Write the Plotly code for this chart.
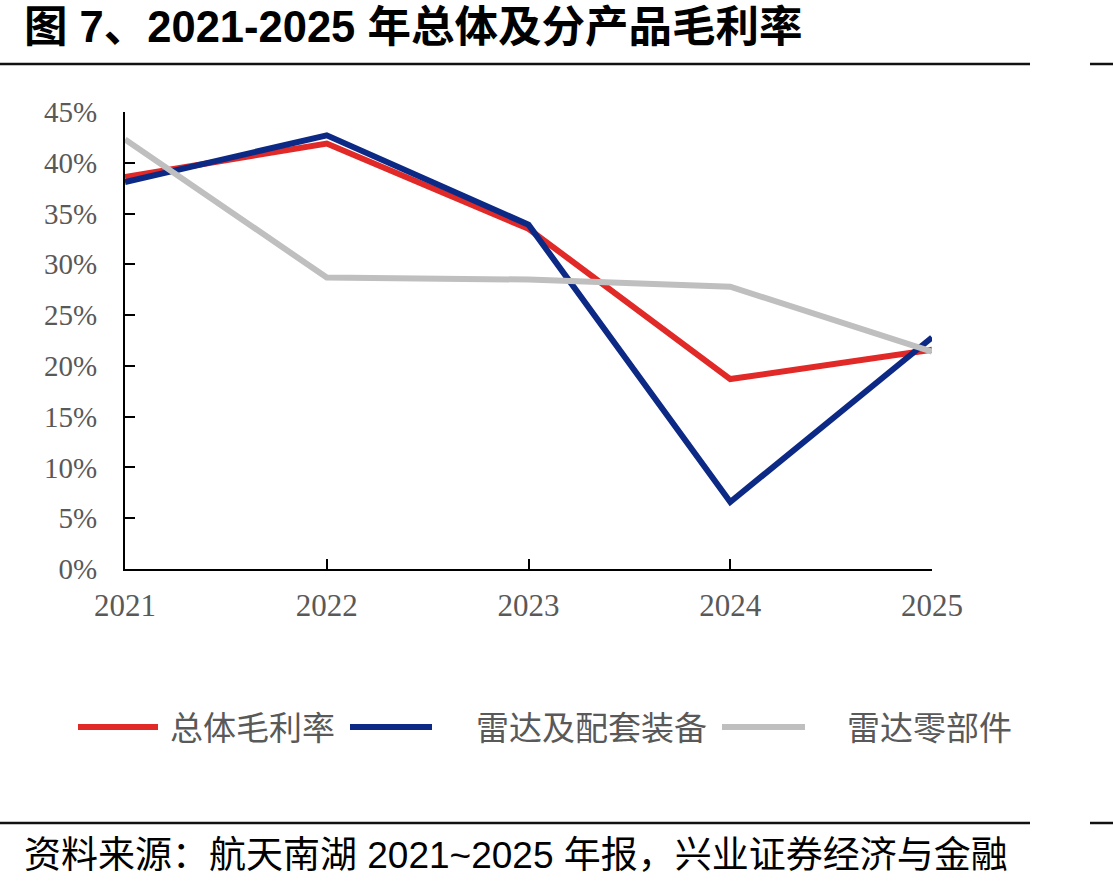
import plotly.graph_objects as go

years = [2021, 2022, 2023, 2024, 2025]
overall_margin = [38.6, 41.9, 33.5, 18.7, 21.6]
radar_equipment = [38.1, 42.7, 33.9, 6.6, 22.8]
radar_parts = [42.3, 28.7, 28.5, 27.8, 21.4]
series_names = ["总体毛利率", "雷达及配套装备", "雷达零部件"]
series_colors = ["#E12927", "#0C2A85", "#BFBFBF"]
y_ticks = [0, 5, 10, 15, 20, 25, 30, 35, 40, 45]
y_tick_text = [f"{v}%" for v in y_ticks]
x_tick_text = [str(y) for y in years]

title_text = "图 7、2021-2025 年总体及分产品毛利率"
source_text = "资料来源：航天南湖 2021~2025 年报，兴业证券经济与金融"

W, H = 1113, 887
L, R, T, B = 125, 181, 112, 318
pw, ph = W - L - R, H - T - B


def px(x):
    return (x - L) / pw


def py(y):
    return (H - B - y) / ph


fig = go.Figure()
series = [overall_margin, radar_equipment, radar_parts]
for name, vals, col in zip(series_names, series, series_colors):
    fig.add_trace(go.Scatter(x=years, y=vals, name=name, mode="lines",
                             line=dict(color=col, width=6), showlegend=False,
                             cliponaxis=False))

serif = "Liberation Serif, Times New Roman, serif"
cjk = "Noto Sans CJK SC, sans-serif"

fig.update_layout(
    width=W, height=H,
    margin=dict(l=L, r=R, t=T, b=B),
    paper_bgcolor="white", plot_bgcolor="white",
    xaxis=dict(range=[2021, 2025], tickvals=years, ticktext=x_tick_text,
               showgrid=False, zeroline=False, showline=True, linecolor="black",
               linewidth=2, ticks="inside", ticklen=10, tickwidth=2, tickcolor="black",
               tickfont=dict(family=serif, size=31, color="#595959"),
               ticklabelstandoff=8),
    yaxis=dict(range=[0, 45], tickvals=y_ticks, ticktext=y_tick_text,
               showgrid=False, zeroline=False, showline=True, linecolor="black",
               linewidth=2, ticks="inside", ticklen=10, tickwidth=2, tickcolor="black",
               tickfont=dict(family=serif, size=29, color="#595959"),
               ticklabelstandoff=20),
    showlegend=False,
)

shapes = []
# header / footer rules
for (x0, x1) in [(0, 1030), (1090, 1113)]:
    shapes.append(dict(type="line", xref="paper", yref="paper",
                       x0=px(x0), x1=px(x1), y0=py(64), y1=py(64),
                       line=dict(color="#111111", width=2.5)))
    shapes.append(dict(type="line", xref="paper", yref="paper",
                       x0=px(x0), x1=px(x1), y0=py(823), y1=py(823),
                       line=dict(color="#111111", width=2.5)))

# legend
legend_items = [(78, 158, 168), (350, 432, 474), (722, 805, 845)]
annotations = []
for (lx0, lx1, tx), name, col in zip(legend_items, series_names, series_colors):
    shapes.append(dict(type="line", xref="paper", yref="paper",
                       x0=px(lx0), x1=px(lx1), y0=py(727), y1=py(727),
                       line=dict(color=col, width=6)))
    annotations.append(dict(x=px(tx), y=py(726), xref="paper", yref="paper",
                            text=name, showarrow=False, xanchor="left", yanchor="middle",
                            font=dict(family=cjk, size=33, color="#595959")))

annotations.append(dict(x=px(22), y=py(27), xref="paper", yref="paper",
                        text="<b>" + title_text + "</b>", showarrow=False,
                        xanchor="left", yanchor="middle",
                        font=dict(family="Liberation Sans, Noto Sans CJK SC, sans-serif",
                                  size=43.5, color="black")))
annotations.append(dict(x=px(22), y=py(855), xref="paper", yref="paper",
                        text=source_text, showarrow=False,
                        xanchor="left", yanchor="middle",
                        font=dict(family="Liberation Sans, Noto Sans CJK SC, sans-serif",
                                  size=37, color="black")))

fig.update_layout(shapes=shapes, annotations=annotations)
fig.write_html("out.html")
